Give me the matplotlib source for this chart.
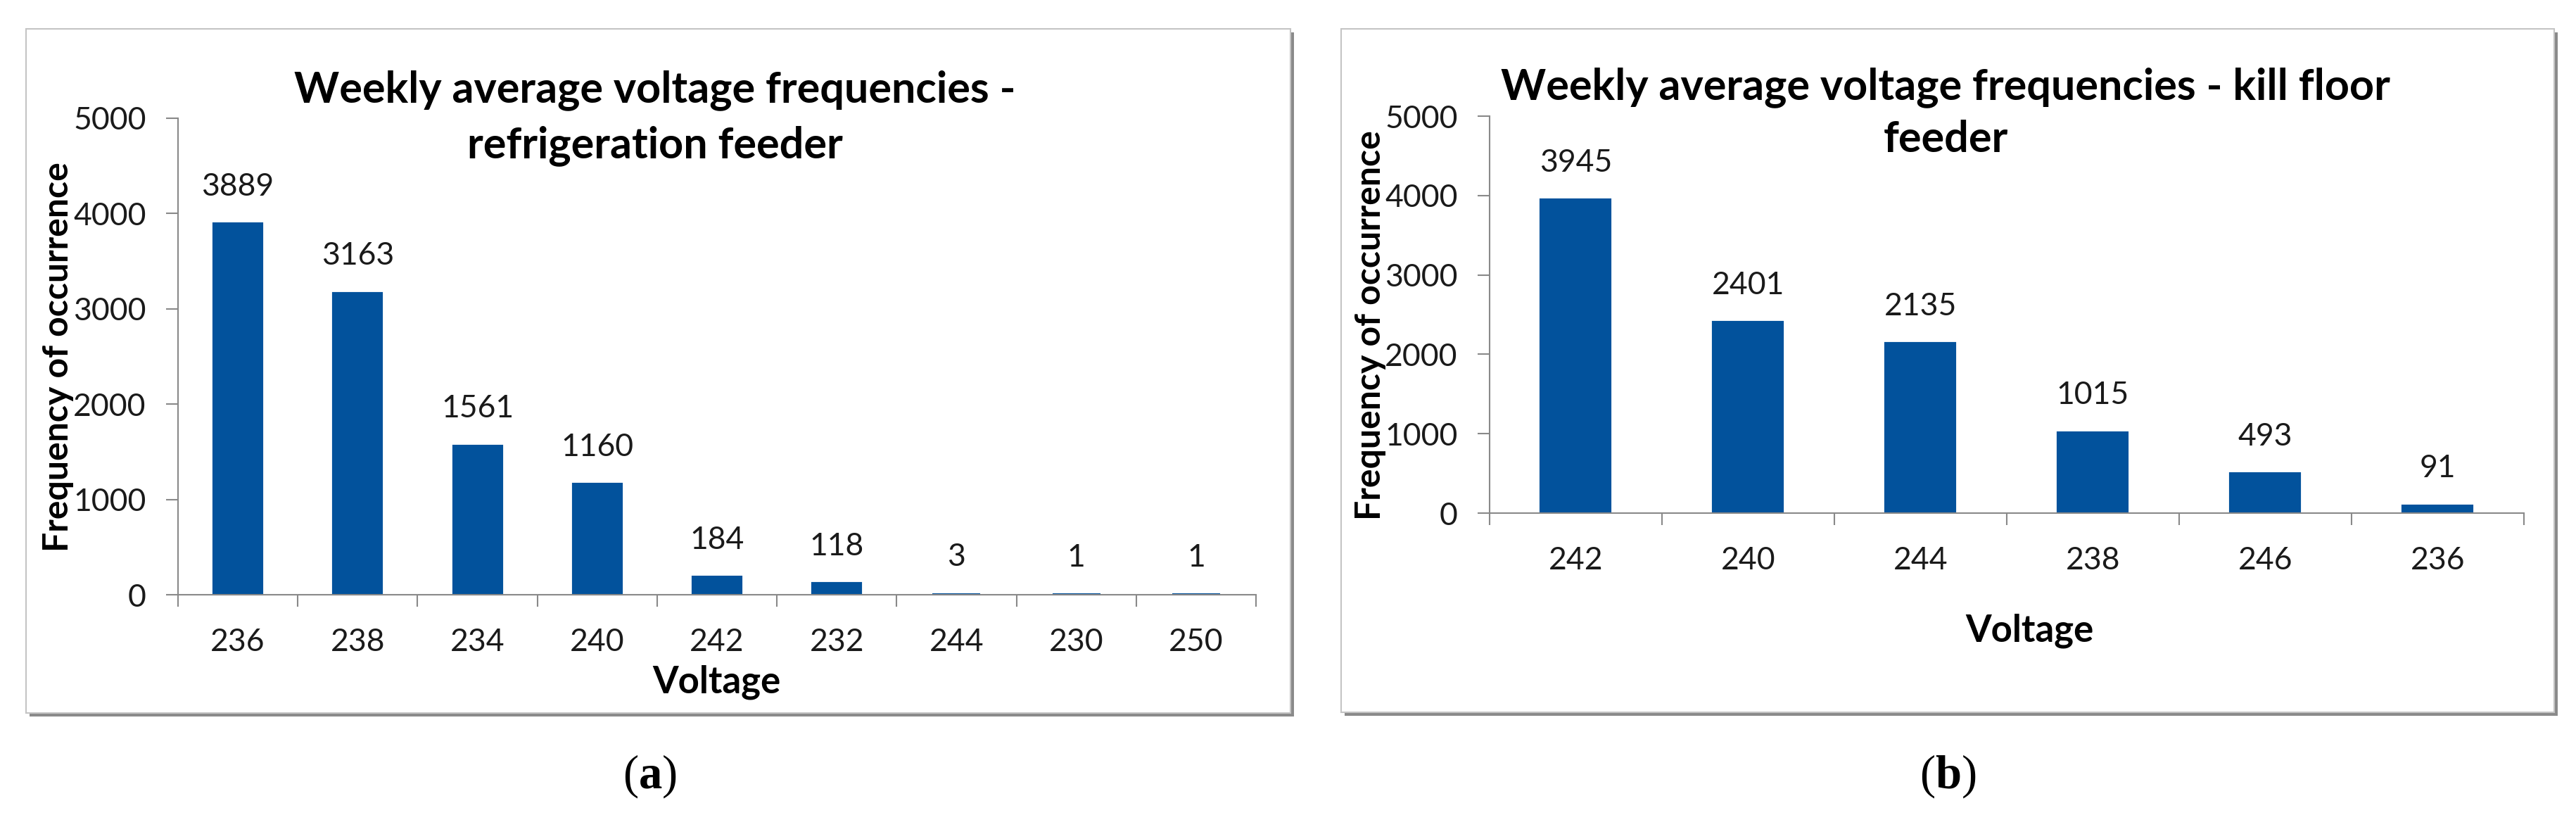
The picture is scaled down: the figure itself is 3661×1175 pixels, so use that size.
import matplotlib
matplotlib.use("Agg")
import matplotlib.pyplot as plt
from matplotlib.patches import Rectangle

############### DATA ###############

REFRIG_VOLTAGE = ["236", "238", "234", "240", "242", "232", "244", "230", "250"]
REFRIG_FREQ = [3889, 3163, 1561, 1160, 184, 118, 3, 1, 1]

KILL_VOLTAGE = ["242", "240", "244", "238", "246", "236"]
KILL_FREQ = [3945, 2401, 2135, 1015, 493, 91]

REFRIG_TITLE = ["Weekly average voltage frequencies -", "refrigeration feeder"]
KILL_TITLE = ["Weekly average voltage frequencies - kill floor", "feeder"]

Y_TICKS = [0, 1000, 2000, 3000, 4000, 5000]

############### STYLE ###############

W, H = 3662, 1175
BAR_COLOR = "#02529C"
AXIS_COLOR = "#898989"
TEXT_COLOR = "#1a1a1a"

plt.rcParams["font.family"] = ["Lato", "DejaVu Sans"]
plt.rcParams["mathtext.fontset"] = "custom"
plt.rcParams["mathtext.rm"] = "Liberation Serif"
plt.rcParams["mathtext.bf"] = "Liberation Serif:bold"

fig = plt.figure(figsize=(W / 100, H / 100), dpi=100)


def fx(px):
    return px / W


def fy(py):
    return 1 - py / H


def draw_box(x0, y0, x1, y1):
    # shadow on the right and bottom, then the white chart area (behind the axes)
    fig.patches.append(Rectangle((fx(x0 + 5), fy(y1 + 5)), fx(x1 - x0), (y1 - y0) / H,
                                 transform=fig.transFigure, facecolor="#8a8a8a",
                                 edgecolor="none", zorder=-3))
    fig.patches.append(Rectangle((fx(x0), fy(y1)), fx(x1 - x0), (y1 - y0) / H,
                                 transform=fig.transFigure, facecolor="white",
                                 edgecolor="#c4c4c4", linewidth=1.5, zorder=-2))


def graph_bars(rect_px, cats, vals, title, title_x, title_y, ylab_xy, xlab_xy):
    left, right, top, bottom = rect_px
    ax = fig.add_axes([fx(left), fy(bottom), fx(right - left), (bottom - top) / H])
    n = len(cats)
    x = list(range(n))
    # thick edge in the bar colour so tiny counts still show a sliver, as in Excel
    ax.bar(x, vals, width=0.40, color=BAR_COLOR, edgecolor=BAR_COLOR, linewidth=3, zorder=2)
    ax.set_xlim(-0.5, n - 0.5)
    ax.set_ylim(0, 5000)
    ax.set_yticks(Y_TICKS)
    ax.set_yticklabels([str(t) for t in Y_TICKS], fontsize=32, color=TEXT_COLOR)
    ax.set_xticks([i - 0.5 for i in range(n + 1)])
    ax.set_xticklabels([])
    ax.set_xticks(x, minor=True)
    ax.set_xticklabels(cats, minor=True, fontsize=32, color=TEXT_COLOR)
    ax.tick_params(axis="y", direction="out", length=12.5, width=1.5, color=AXIS_COLOR, pad=20)
    ax.tick_params(axis="x", which="major", direction="out", length=12, width=1.5, color=AXIS_COLOR)
    ax.tick_params(axis="x", which="minor", length=0, pad=34)
    for s in ["top", "right"]:
        ax.spines[s].set_visible(False)
    for s in ["left", "bottom"]:
        ax.spines[s].set_color(AXIS_COLOR)
        ax.spines[s].set_linewidth(1.5)
        ax.spines[s].set_zorder(3)
    ax.patch.set_alpha(0)
    for xi, v in zip(x, vals):
        ax.annotate(str(v), (xi, v), xytext=(0, 38), textcoords="offset points",
                    ha="center", va="center", fontsize=32, color=TEXT_COLOR)
    # title, two lines like the Excel original
    fig.text(fx(title_x), fy(title_y[0]), title[0], ha="center", va="center",
             fontsize=44, fontweight="bold")
    fig.text(fx(title_x), fy(title_y[1]), title[1], ha="center", va="center",
             fontsize=44, fontweight="bold")
    fig.text(fx(ylab_xy[0]), fy(ylab_xy[1]), "Frequency of occurrence", rotation=90,
             ha="center", va="center", fontsize=36, fontweight="bold")
    fig.text(fx(xlab_xy[0]), fy(xlab_xy[1]), "Voltage", ha="center", va="center",
             fontsize=38, fontweight="bold")
    return ax


############### MAIN ###############

draw_box(37, 41, 1834, 1013)
draw_box(1906, 41, 3630, 1012)

graph_bars((253, 1785, 168, 845), REFRIG_VOLTAGE, REFRIG_FREQ, REFRIG_TITLE,
           931, (128, 207), (83, 507), (1018, 969))
graph_bars((2117, 3587, 165, 729), KILL_VOLTAGE, KILL_FREQ, KILL_TITLE,
           2765, (124, 198), (1948, 462), (2884, 896))

fig.text(fx(923), fy(1103), r"($\mathbf{a}$)", ha="center", va="center",
         fontsize=48, family="Liberation Serif")
fig.text(fx(2768), fy(1103), r"($\mathbf{b}$)", ha="center", va="center",
         fontsize=48, family="Liberation Serif")

fig.savefig("out.png", dpi=100)
